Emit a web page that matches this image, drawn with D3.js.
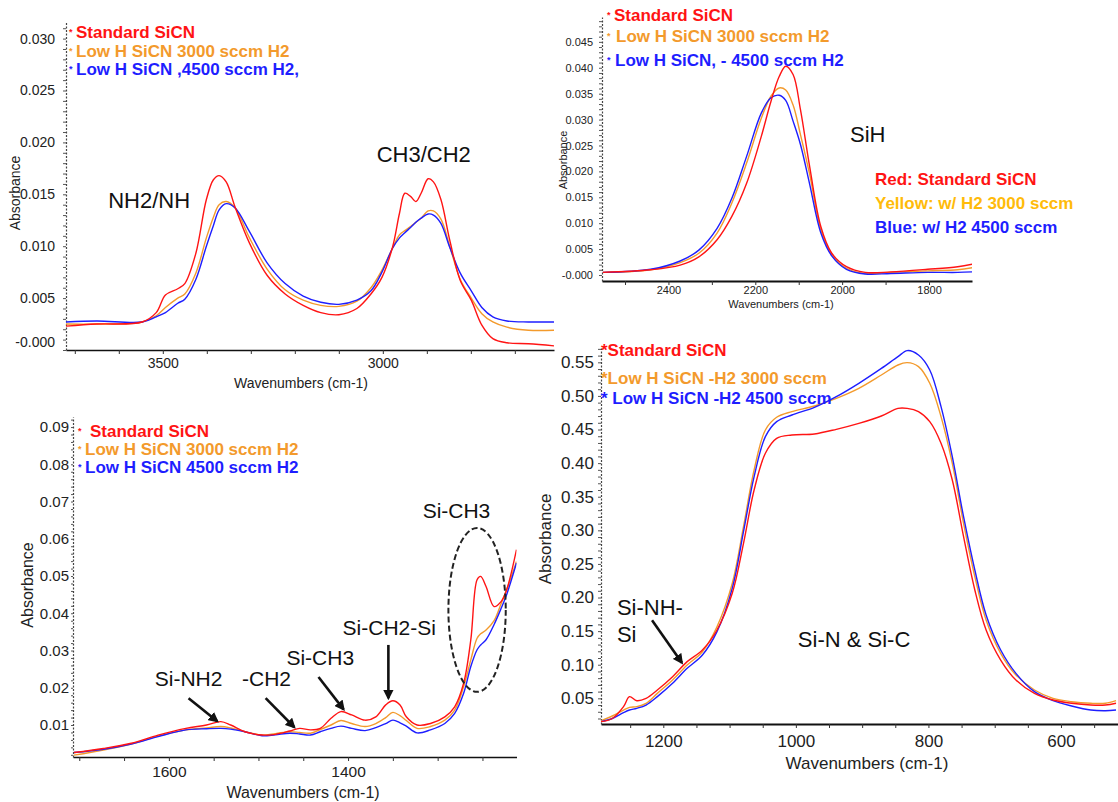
<!DOCTYPE html>
<html>
<head>
<meta charset="utf-8">
<script src="https://cdn.jsdelivr.net/npm/d3@7"></script>
<style>
  body { margin: 0; background: #fff; }
  svg { display: block; }
  text { font-family: "Liberation Sans", Arial, sans-serif; }
</style>
</head>
<body>
<div id="chart"></div>
<script>
// ---- NH / CH stretch region (top left)
const nhWavenumbers = [3720, 3650, 3547, 3515, 3494, 3466, 3450, 3425, 3401, 3385, 3372, 3356, 3336, 3303, 3263, 3222, 3181, 3141, 3100, 3059, 3027, 3002, 2978, 2962, 2950, 2937, 2925, 2913, 2897, 2885, 2868, 2848, 2824, 2799, 2775, 2750, 2718, 2669, 2611];
const nhStandard = [0.0023, 0.0025, 0.0027, 0.0036, 0.0053, 0.0059, 0.0064, 0.0093, 0.0145, 0.0164, 0.0168, 0.0162, 0.0138, 0.0103, 0.0072, 0.0054, 0.0043, 0.0036, 0.0034, 0.0040, 0.0054, 0.0070, 0.0099, 0.0132, 0.0151, 0.0148, 0.0143, 0.0151, 0.0165, 0.0162, 0.0145, 0.0106, 0.0067, 0.0048, 0.0024, 0.0011, 0.0007, 0.0006, 0.0004];
const nhLowH3000 = [0.0025, 0.0025, 0.0027, 0.0033, 0.0041, 0.0050, 0.0054, 0.0074, 0.0108, 0.0128, 0.0140, 0.0143, 0.0137, 0.0108, 0.0078, 0.0058, 0.0048, 0.0043, 0.0042, 0.0047, 0.0060, 0.0077, 0.0098, 0.0111, 0.0115, 0.0119, 0.0123, 0.0127, 0.0134, 0.0134, 0.0126, 0.0100, 0.0068, 0.0050, 0.0035, 0.0027, 0.0022, 0.0019, 0.0019];
const nhLowH4500 = [0.0027, 0.0028, 0.0027, 0.0032, 0.0036, 0.0045, 0.0049, 0.0068, 0.0100, 0.0120, 0.0135, 0.0141, 0.0137, 0.0114, 0.0084, 0.0064, 0.0052, 0.0046, 0.0044, 0.0048, 0.0057, 0.0075, 0.0098, 0.0108, 0.0113, 0.0118, 0.0123, 0.0127, 0.0131, 0.0130, 0.0122, 0.0099, 0.0074, 0.0057, 0.0041, 0.0032, 0.0028, 0.0027, 0.0027];
const nhXLabels = [3500, 3000];
const nhYTicks = [0, 0.005, 0.010, 0.015, 0.020, 0.025, 0.030];
const nhYLabels = ["-0.000", "0.005", "0.010", "0.015", "0.020", "0.025", "0.030"];
const nhLegend = ["Standard SiCN", "Low H SiCN 3000 sccm H2", "Low H SiCN ,4500 sccm H2,"];

// ---- SiH region (top right)
const shWavenumbers = [2551, 2441, 2373, 2330, 2288, 2254, 2220, 2186, 2164, 2145, 2130, 2113, 2096, 2075, 2049, 2024, 1990, 1947, 1888, 1803, 1734, 1700];
const shStandard = [0.0005, 0.0010, 0.0019, 0.0035, 0.0068, 0.0113, 0.0177, 0.0268, 0.0335, 0.0383, 0.0403, 0.0387, 0.0319, 0.0210, 0.0093, 0.0042, 0.0016, 0.0005, 0.0006, 0.0011, 0.0016, 0.0021];
const shLowH3000 = [0.0005, 0.0010, 0.0024, 0.0042, 0.0081, 0.0139, 0.0216, 0.0303, 0.0345, 0.0361, 0.0357, 0.0328, 0.0271, 0.0195, 0.0087, 0.0039, 0.0013, 0.0003, 0.0005, 0.0008, 0.0010, 0.0014];
const shLowH4500 = [0.0005, 0.0011, 0.0027, 0.0048, 0.0090, 0.0148, 0.0229, 0.0313, 0.0342, 0.0347, 0.0337, 0.0297, 0.0252, 0.0176, 0.0081, 0.0037, 0.0011, 0.0002, 0.0003, 0.0005, 0.0005, 0.0006];
const shXLabels = [2400, 2200, 2000, 1800];
const shYTicks = [0, 0.005, 0.010, 0.015, 0.020, 0.025, 0.030, 0.035, 0.040, 0.045];
const shYLabels = ["-0.000", "0.005", "0.010", "0.015", "0.020", "0.025", "0.030", "0.035", "0.040", "0.045"];
const shLegend = ["Standard SiCN", "Low H SiCN  3000 sccm H2", "Low H SiCN, - 4500 sccm H2"];
const shColorKey = ["Red: Standard SiCN", "Yellow: w/ H2 3000 sccm", "Blue: w/ H2 4500 sccm"];

// ---- 1700-1200 region (bottom left)
const ccWavenumbers = [1706, 1673, 1642, 1612, 1581, 1558, 1542, 1531, 1515, 1496, 1481, 1465, 1454, 1442, 1431, 1419, 1408, 1396, 1381, 1369, 1358, 1350, 1342, 1335, 1323, 1308, 1292, 1281, 1271, 1263, 1256, 1252, 1246, 1237, 1229, 1223, 1212];
const ccStandard = [0.0026, 0.0037, 0.0051, 0.0073, 0.0091, 0.0100, 0.0109, 0.0100, 0.0082, 0.0073, 0.0075, 0.0084, 0.0091, 0.0087, 0.0091, 0.0118, 0.0136, 0.0127, 0.0113, 0.0122, 0.0154, 0.0165, 0.0154, 0.0122, 0.0100, 0.0104, 0.0122, 0.0149, 0.0212, 0.0329, 0.0490, 0.0499, 0.0472, 0.0418, 0.0432, 0.0463, 0.0571];
const ccLowH3000 = [0.0019, 0.0033, 0.0049, 0.0070, 0.0087, 0.0092, 0.0096, 0.0092, 0.0082, 0.0073, 0.0077, 0.0082, 0.0080, 0.0078, 0.0088, 0.0100, 0.0112, 0.0104, 0.0096, 0.0104, 0.0120, 0.0134, 0.0125, 0.0112, 0.0091, 0.0096, 0.0113, 0.0140, 0.0203, 0.0275, 0.0333, 0.0345, 0.0355, 0.0380, 0.0427, 0.0463, 0.0539];
const ccLowH4500 = [0.0026, 0.0035, 0.0049, 0.0069, 0.0087, 0.0090, 0.0091, 0.0089, 0.0082, 0.0071, 0.0074, 0.0078, 0.0076, 0.0073, 0.0082, 0.0091, 0.0097, 0.0091, 0.0085, 0.0093, 0.0104, 0.0113, 0.0106, 0.0097, 0.0079, 0.0087, 0.0104, 0.0131, 0.0185, 0.0257, 0.0302, 0.0315, 0.0329, 0.0370, 0.0414, 0.0450, 0.0535];
const ccXLabels = [1600, 1400];
const ccYTicks = [0.01, 0.02, 0.03, 0.04, 0.05, 0.06, 0.07, 0.08, 0.09];
const ccYLabels = ["0.01", "0.02", "0.03", "0.04", "0.05", "0.06", "0.07", "0.08", "0.09"];
const ccLegend = ["Standard SiCN", "Low H SiCN 3000 sccm H2", "Low H SiCN 4500 sccm H2"];
// peak labels: [text, wavenumber, absorbance] and arrows: [fromWn, fromAbs, toWn, toAbs]
const ccPeakLabels = [["Si-NH2", 1578, 0.0205], ["-CH2", 1491, 0.0205], ["Si-CH3", 1431, 0.0261], ["Si-CH2-Si", 1354, 0.0342], ["Si-CH3", 1279, 0.0656]];
const ccArrows = [[1578, 0.0172, 1546, 0.0110], [1492, 0.0172, 1460, 0.0094], [1433, 0.0229, 1405, 0.0142], [1355, 0.0315, 1355, 0.0172]];
const ccCircle = [1256, 0.0409, 32, 0.022];

// ---- Si-N / Si-C region (bottom right)
const snWavenumbers = [1294, 1277, 1260, 1251, 1240, 1226, 1209, 1186, 1164, 1141, 1119, 1096, 1079, 1063, 1046, 1029, 1006, 972, 939, 905, 871, 846, 832, 815, 798, 781, 764, 747, 730, 713, 691, 668, 640, 612, 584, 555, 533, 517];
const snStandard = [0.0153, 0.0200, 0.0376, 0.0525, 0.0465, 0.0500, 0.0624, 0.0822, 0.1046, 0.1220, 0.1517, 0.2063, 0.2807, 0.3600, 0.4146, 0.4369, 0.4419, 0.4434, 0.4503, 0.4592, 0.4701, 0.4815, 0.4815, 0.4766, 0.4617, 0.4295, 0.3749, 0.2906, 0.2112, 0.1517, 0.1070, 0.0773, 0.0574, 0.0475, 0.0426, 0.0400, 0.0400, 0.0426];
const snLowH3000 = [0.0168, 0.0237, 0.0326, 0.0366, 0.0376, 0.0426, 0.0574, 0.0773, 0.0996, 0.1194, 0.1566, 0.2211, 0.3055, 0.3898, 0.4493, 0.4682, 0.4766, 0.4850, 0.4964, 0.5113, 0.5311, 0.5460, 0.5495, 0.5436, 0.5188, 0.4692, 0.3997, 0.3104, 0.2311, 0.1666, 0.1170, 0.0847, 0.0624, 0.0500, 0.0450, 0.0426, 0.0426, 0.0465];
const snLowH4500 = [0.0153, 0.0200, 0.0287, 0.0326, 0.0351, 0.0400, 0.0525, 0.0723, 0.0946, 0.1145, 0.1492, 0.2137, 0.2980, 0.3799, 0.4394, 0.4617, 0.4716, 0.4830, 0.4989, 0.5188, 0.5410, 0.5584, 0.5674, 0.5609, 0.5386, 0.4840, 0.4096, 0.3203, 0.2410, 0.1740, 0.1219, 0.0872, 0.0599, 0.0465, 0.0386, 0.0326, 0.0316, 0.0326];
const snXLabels = [1200, 1000, 800, 600];
const snYTicks = [0.05, 0.10, 0.15, 0.20, 0.25, 0.30, 0.35, 0.40, 0.45, 0.50, 0.55];
const snYLabels = ["0.05", "0.10", "0.15", "0.20", "0.25", "0.30", "0.35", "0.40", "0.45", "0.50", "0.55"];
const snLegend = ["*Standard SiCN", "*Low H SiCN -H2 3000 sccm", "* Low H SiCN -H2 4500 sccm"];
const snPeakLabels = [["Si-NH-", 1270, 0.174], ["Si", 1270, 0.134], ["Si-N & Si-C", 997, 0.127]];
const snArrows = [[1217, 0.166, 1172, 0.103]];

const colors = ["#ff1414", "#f39a2c", "#1e1eff"];
const keyColors = ["#ff1414", "#ffbb0a", "#1e1eff"];

const svg = d3.select("#chart").append("svg")
    .attr("width", 1118)
    .attr("height", 802);

svg.append("defs").append("marker")
    .attr("id", "arrowhead")
    .attr("viewBox", "0 0 10 10")
    .attr("refX", 8)
    .attr("refY", 5)
    .attr("markerWidth", 4)
    .attr("markerHeight", 4)
    .attr("orient", "auto")
    .append("path")
    .attr("d", "M0,0L10,5L0,10z")
    .attr("fill", "#111");

function near(a, b) { return Math.abs(a - b) < 1e-7; }

function drawPanel(p) {
    const g = svg.append("g");
    const x = d3.scaleLinear().domain(p.xDomain).range([p.left, p.right]);
    const y = d3.scaleLinear().domain(p.yDomain).range([p.bottom, p.top]);

    // x axis
    const gx = g.append("g")
        .attr("transform", "translate(0," + p.bottom + ")")
        .call(d3.axisBottom(x)
            .tickValues(p.xMinor)
            .tickSize(4)
            .tickSizeOuter(0)
            .tickPadding(p.xPad)
            .tickFormat(d => p.xLabels.includes(d) ? d : ""));
    gx.select(".domain").attr("stroke", "#111").attr("stroke-width", p.xAxisWidth);
    gx.selectAll(".tick line").attr("stroke", "#333");
    gx.selectAll(".tick text").attr("font-size", p.xFont).attr("fill", "#222")
        .style("font-family", "'Liberation Sans', Arial, sans-serif");

    // y axis
    const gy = g.append("g")
        .attr("transform", "translate(" + p.left + ",0)")
        .call(d3.axisLeft(y)
            .tickValues(p.yMinor)
            .tickSize(p.yTickSize)
            .tickSizeOuter(0)
            .tickPadding(p.yPad)
            .tickFormat(d => {
                const i = p.yTicks.findIndex(t => near(t, d));
                return i >= 0 ? p.yLabels[i] : "";
            }));
    gy.select(".domain").attr("stroke", "#444").attr("stroke-width", 1.2).attr("stroke-dasharray", "2,1.5");
    gy.selectAll(".tick line").attr("stroke", "#555");
    gy.selectAll(".tick text").attr("font-size", p.yFont).attr("fill", "#222")
        .style("font-family", "'Liberation Sans', Arial, sans-serif")
        .attr("dy", d => (p.liftZero && near(d, 0)) ? "-0.25em" : "0.32em");

    // titles
    g.append("text")
        .attr("x", p.xTitle[0]).attr("y", p.xTitle[1])
        .attr("text-anchor", "middle")
        .attr("font-size", p.titleFont).attr("fill", "#222")
        .text("Wavenumbers (cm-1)");
    g.append("text")
        .attr("transform", "translate(" + p.yTitle[0] + "," + p.yTitle[1] + ") rotate(-90)")
        .attr("text-anchor", "middle")
        .attr("font-size", p.titleFont).attr("fill", "#222")
        .text("Absorbance");

    // spectra
    const clipId = "clip-" + p.id;
    svg.select("defs").append("clipPath").attr("id", clipId)
        .append("rect")
        .attr("x", p.left).attr("y", p.top - 10)
        .attr("width", p.right - p.left).attr("height", p.bottom - p.top + 10);

    const line = d3.line()
        .x((d, i) => x(p.wn[i]))
        .y(d => y(d))
        .curve(d3.curveCatmullRom.alpha(0.5));

    const order = [1, 2, 0];
    g.append("g").attr("clip-path", "url(#" + clipId + ")")
        .selectAll("path")
        .data(order)
        .enter().append("path")
        .attr("d", k => line(p.series[k]))
        .attr("fill", "none")
        .attr("stroke", k => colors[k])
        .attr("stroke-width", 1.4);

    // legend
    p.legend.forEach((label, k) => {
        if (p.legendMark) {
            g.append("text")
                .attr("x", p.legendMarkX).attr("y", p.legendY[k] - 3)
                .attr("font-size", 9).attr("font-weight", "bold")
                .attr("fill", colors[k])
                .text("*");
        }
        g.append("text")
            .attr("x", p.legendX[k]).attr("y", p.legendY[k])
            .attr("font-size", p.legendFont).attr("font-weight", "bold")
            .attr("fill", colors[k])
            .text(label);
    });

    // annotations
    (p.peakLabels || []).forEach(a => {
        g.append("text")
            .attr("x", x(a[1])).attr("y", y(a[2]))
            .attr("text-anchor", p.peakAnchor)
            .attr("font-size", p.peakFont).attr("fill", "#111")
            .text(a[0]);
    });
    (p.arrows || []).forEach(a => {
        g.append("line")
            .attr("x1", x(a[0])).attr("y1", y(a[1]))
            .attr("x2", x(a[2])).attr("y2", y(a[3]))
            .attr("stroke", "#111").attr("stroke-width", 2.6)
            .attr("marker-end", "url(#arrowhead)");
    });
    if (p.circle) {
        const c = p.circle;
        g.append("ellipse")
            .attr("cx", x(c[0])).attr("cy", y(c[1]))
            .attr("rx", Math.abs(x(c[0] + c[2]) - x(c[0])))
            .attr("ry", Math.abs(y(c[1] + c[3]) - y(c[1])))
            .attr("fill", "none").attr("stroke", "#222")
            .attr("stroke-width", 2).attr("stroke-dasharray", "6,3");
    }
    return {x, y, g};
}

// top left
drawPanel({
    id: "nh", wn: nhWavenumbers, series: [nhStandard, nhLowH3000, nhLowH4500],
    xDomain: [3720, 2611], yDomain: [0, 0.0316],
    left: 66, right: 554, top: 22, bottom: 350,
    xMinor: d3.range(3700, 2650, -100), xLabels: nhXLabels, xPad: 4, xFont: 14, xAxisWidth: 1.5,
    yMinor: d3.range(0, 0.0315, 0.001), yTicks: nhYTicks, yLabels: nhYLabels,
    yTickSize: 3, yPad: 8, yFont: 14, liftZero: true,
    xTitle: [301, 388], yTitle: [20, 193], titleFont: 14,
    legend: nhLegend, legendMark: true, legendMarkX: 69, legendX: [76, 76, 76], legendY: [38, 57, 75], legendFont: 17,
    peakLabels: [["NH2/NH", 3624, 0.0137], ["CH3/CH2", 3014, 0.0181]], peakAnchor: "start", peakFont: 22
});

// top right
const sh = drawPanel({
    id: "sh", wn: shWavenumbers, series: [shStandard, shLowH3000, shLowH4500],
    xDomain: [2553, 1701], yDomain: [-0.00116, 0.0498],
    left: 602, right: 972, top: 17, bottom: 281,
    xMinor: d3.range(2500, 1701, -100), xLabels: shXLabels, xPad: 1, xFont: 11, xAxisWidth: 2,
    yMinor: d3.range(0, 0.0496, 0.001), yTicks: shYTicks, yLabels: shYLabels,
    yTickSize: 3, yPad: 6, yFont: 11, liftZero: false,
    xTitle: [781, 308], yTitle: [567, 160], titleFont: 11,
    legend: shLegend, legendMark: true, legendMarkX: 607, legendX: [614, 616, 615], legendY: [21, 42, 66], legendFont: 17,
    peakLabels: [["SiH", 1982, 0.0257]], peakAnchor: "start", peakFont: 22
});
shColorKey.forEach((t, k) => {
    sh.g.append("text")
        .attr("x", 875).attr("y", 185 + k * 24)
        .attr("font-size", 17).attr("font-weight", "bold")
        .attr("fill", keyColors[k])
        .text(t);
});

// bottom left
drawPanel({
    id: "cc", wn: ccWavenumbers, series: [ccStandard, ccLowH3000, ccLowH4500],
    xDomain: [1707, 1212], yDomain: [0.00141, 0.0927],
    left: 73, right: 516.5, top: 417, bottom: 757,
    xMinor: d3.range(1700, 1212, -50), xLabels: ccXLabels, xPad: 5, xFont: 15.5, xAxisWidth: 1.5,
    yMinor: d3.range(0.002, 0.0925, 0.002), yTicks: ccYTicks, yLabels: ccYLabels,
    yTickSize: 2, yPad: 2, yFont: 15, liftZero: false,
    xTitle: [303, 798], yTitle: [33, 585], titleFont: 16,
    legend: ccLegend, legendMark: true, legendMarkX: 78, legendX: [90, 85, 85], legendY: [437, 455, 473], legendFont: 17,
    peakLabels: ccPeakLabels, arrows: ccArrows, circle: ccCircle, peakAnchor: "middle", peakFont: 21
});

// bottom right
drawPanel({
    id: "sn", wn: snWavenumbers, series: [snStandard, snLowH3000, snLowH4500],
    xDomain: [1294, 514], yDomain: [0.0118, 0.5713],
    left: 601, right: 1118, top: 348, bottom: 724,
    xMinor: d3.range(1250, 514, -50), xLabels: snXLabels, xPad: 7, xFont: 17, xAxisWidth: 2,
    yMinor: d3.range(0.02, 0.571, 0.01), yTicks: snYTicks, yLabels: snYLabels,
    yTickSize: 3, yPad: 4, yFont: 17, liftZero: false,
    xTitle: [867, 769], yTitle: [551, 539], titleFont: 17,
    legend: snLegend, legendMark: false, legendX: [601, 601, 601], legendY: [356, 384, 404], legendFont: 17,
    peakLabels: snPeakLabels, arrows: snArrows, peakAnchor: "start", peakFont: 22
});
</script>
</body>
</html>
